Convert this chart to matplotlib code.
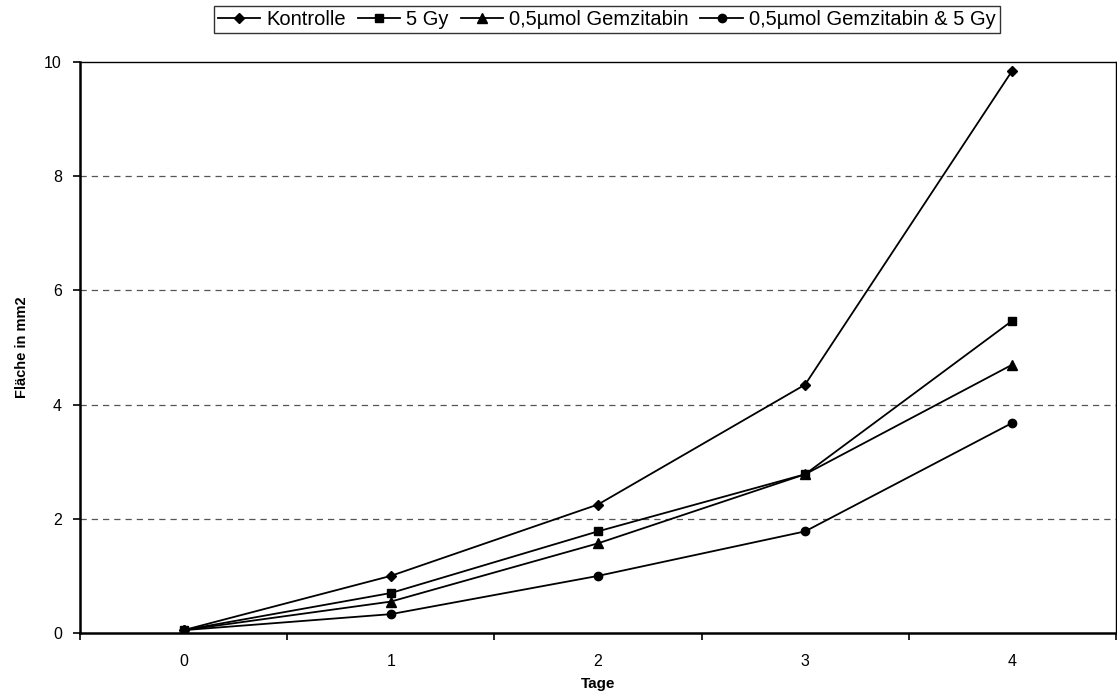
import matplotlib
matplotlib.use("Agg")
import matplotlib.pyplot as plt
from matplotlib.ticker import FixedLocator, NullFormatter

plt.rcParams['font.family'] = ['Liberation Sans', 'DejaVu Sans']

tage = [0, 1, 2, 3, 4]
kontrolle = [0.05, 1.00, 2.25, 4.35, 9.85]
gy5 = [0.05, 0.70, 1.78, 2.78, 5.47]
gemzitabin = [0.05, 0.55, 1.57, 2.78, 4.70]
kombination = [0.05, 0.33, 1.00, 1.78, 3.68]

series = [
    ("Kontrolle", kontrolle, "D", 5),
    ("5 Gy", gy5, "s", 6),
    ("0,5µmol Gemzitabin", gemzitabin, "^", 6.5),
    ("0,5µmol Gemzitabin & 5 Gy", kombination, "o", 6),
]

fig = plt.figure(figsize=(11.17, 7.0), dpi=100)
ax = fig.add_axes([0.0716, 0.0957, 0.9274, 0.8157])

for name, vals, marker, ms in series:
    ax.plot(tage, vals, color="black", lw=1.3, marker=marker, ms=ms,
            label=name)

ax.set_xlim(-0.5, 4.5)
ax.set_ylim(0, 10)
ax.set_yticks([0, 2, 4, 6, 8, 10])
ax.set_xticks(tage)
ax.xaxis.set_minor_locator(FixedLocator([-0.5, 0.5, 1.5, 2.5, 3.5, 4.5]))
ax.xaxis.set_minor_formatter(NullFormatter())
ax.tick_params(axis="x", which="major", length=0, pad=15, labelsize=11.5)
ax.tick_params(axis="x", which="minor", length=5, width=1.2, direction="out")
ax.tick_params(axis="y", length=5, width=1.2, direction="out", labelsize=11.5,
               pad=8)

for y in [2, 4, 6, 8]:
    ax.axhline(y, color="#555555", lw=0.9, ls=(0, (5, 4)), zorder=0)

for s in ax.spines.values():
    s.set_linewidth(1.0)
ax.spines["left"].set_linewidth(1.8)
ax.spines["bottom"].set_linewidth(1.8)

ax.set_xlabel("Tage", fontsize=11, fontweight="bold", labelpad=6)
ax.set_ylabel("Fläche in mm2", fontsize=10.5, fontweight="bold",
              family=["Liberation Sans Narrow", "Liberation Sans"],
              labelpad=11)

leg = fig.legend(loc="upper center", bbox_to_anchor=(0.543, 0.992), ncol=4,
                 frameon=True, fancybox=False, edgecolor="black",
                 fontsize=14.5, handlelength=2.1, handletextpad=0.3,
                 columnspacing=0.6, borderpad=0.2, borderaxespad=0)
leg.get_frame().set_linewidth(1.0)

fig.savefig("out.png", dpi=100)
